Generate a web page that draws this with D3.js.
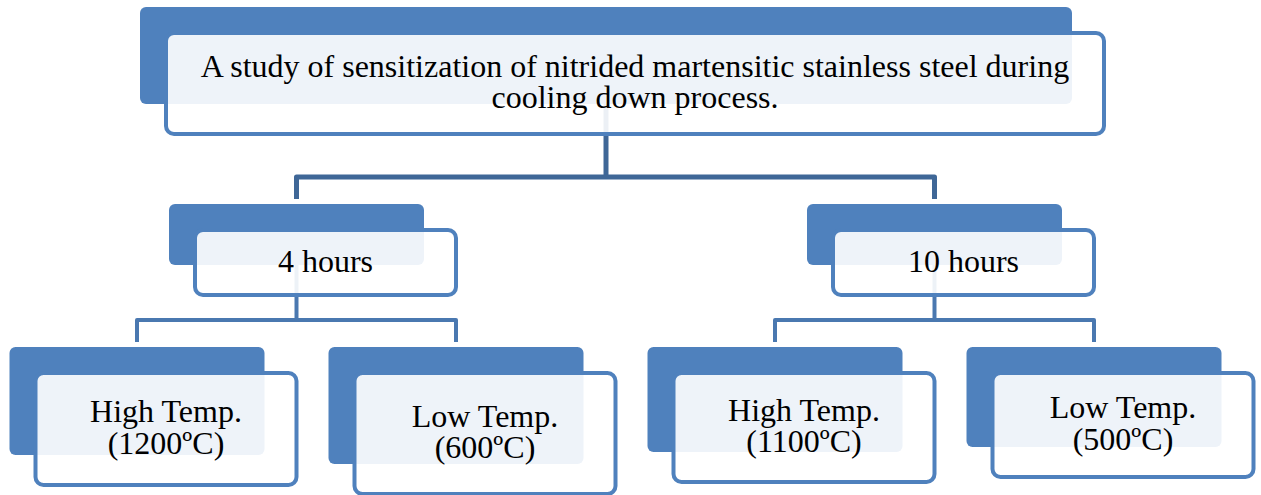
<!DOCTYPE html>
<html>
<head>
<meta charset="utf-8">
<script src="https://cdn.jsdelivr.net/npm/d3@7"></script>
<style>
  body { margin: 0; background: #fff; }
  svg { display: block; }
</style>
</head>
<body>
<div class="canvas"></div>
<script>
// diagram content
const rootLines = ["A study of sensitization of nitrided martensitic stainless steel during", "cooling down process."];
const durations = ["4 hours", "10 hours"];
const tempKinds = ["High Temp.", "Low Temp."];
const temperatures = [[1200, 600], [1100, 500]];

// layout (pixels)
const width = 1261, height = 495;
const levelTop = [7, 204, 347];
const backW = [932, 255, 255];
const backH = [97, 61, 108];
const leafBackH = [108, 117, 105, 100];
const leafSpacing = 319;
const rootCenter = 606;
const frontOff = 26;
const lineGap = 31.5;

const blue = '#4F81BD';

const treeData = {
  lines: rootLines,
  children: durations.map((d, i) => ({
    lines: [d],
    children: temperatures[i].map((t, j) => ({ lines: [tempKinds[j], `(${t}ºC)`] }))
  }))
};

const root = d3.hierarchy(treeData);
d3.tree().nodeSize([leafSpacing, 1]).separation(() => 1)(root);

const shift = width / 2 - 15;
root.each(d => { d.cx = d.x + shift; });
root.cx = rootCenter; // title box is wider, sits a bit left of the tree centre

root.leaves().forEach((d, i) => { d.bh = leafBackH[i]; });
root.each(d => {
  d.bw = backW[d.depth];
  if (d.bh == null) d.bh = backH[d.depth];
  d.bx = d.cx - d.bw / 2;
  d.by = levelTop[d.depth];
  d.fx = d.bx + frontOff;
  d.fy = d.by + frontOff;
  d.fw = d.bw + 6;
  d.fh = d.bh + 4;
});

const svg = d3.select('.canvas')
  .append('svg')
  .attr('width', width)
  .attr('height', height);

const nodes = root.descendants();

// back plates
svg.append('g').selectAll('rect')
  .data(nodes)
  .enter().append('rect')
  .attr('x', d => d.bx)
  .attr('y', d => d.by)
  .attr('width', d => d.bw)
  .attr('height', d => d.bh)
  .attr('rx', 6)
  .attr('fill', blue);

// connectors
const links = svg.append('g').attr('fill', 'none').attr('stroke-linejoin', 'round');
root.descendants().filter(d => d.children).forEach(p => {
  const kids = p.children;
  const elbow = kids[0].by - 27;
  const g = links.append('g')
    .attr('stroke', p.depth === 0 ? '#3F6797' : '#4A78B0')
    .attr('stroke-width', p.depth === 0 ? 5 : 4);
  g.append('line')
    .attr('x1', p.cx).attr('x2', p.cx)
    .attr('y1', p.by + p.bh).attr('y2', elbow);
  g.append('path')
    .attr('d', d3.line()([
      [kids[0].cx, kids[0].by - 5],
      [kids[0].cx, elbow],
      [kids[kids.length - 1].cx, elbow],
      [kids[kids.length - 1].cx, kids[kids.length - 1].by - 5]
    ]));
});

// front boxes
svg.append('g').selectAll('rect')
  .data(nodes)
  .enter().append('rect')
  .attr('x', d => d.fx)
  .attr('y', d => d.fy)
  .attr('width', d => d.fw)
  .attr('height', d => d.fh)
  .attr('rx', 8)
  .attr('fill', 'rgba(255,255,255,0.9)')
  .attr('stroke', blue)
  .attr('stroke-width', 4);

// labels (one text element per box, lines as tspans)
const labels = svg.append('g')
  .attr('font-family', '"Liberation Serif", "Times New Roman", serif')
  .attr('font-size', 32)
  .attr('fill', '#000')
  .attr('text-anchor', 'middle');

nodes.forEach(d => {
  const cx = d.fx + d.fw / 2;
  const cy = d.fy + d.fh / 2;
  const n = d.data.lines.length;
  const txt = labels.append('text')
    .attr('x', cx)
    .attr('y', cy + 9 - (n - 1) / 2 * lineGap);
  d.data.lines.forEach((t, i) => {
    txt.append('tspan')
      .attr('x', cx)
      .attr('dy', i === 0 ? 0 : lineGap)
      .text(t);
  });
});
</script>
</body>
</html>
